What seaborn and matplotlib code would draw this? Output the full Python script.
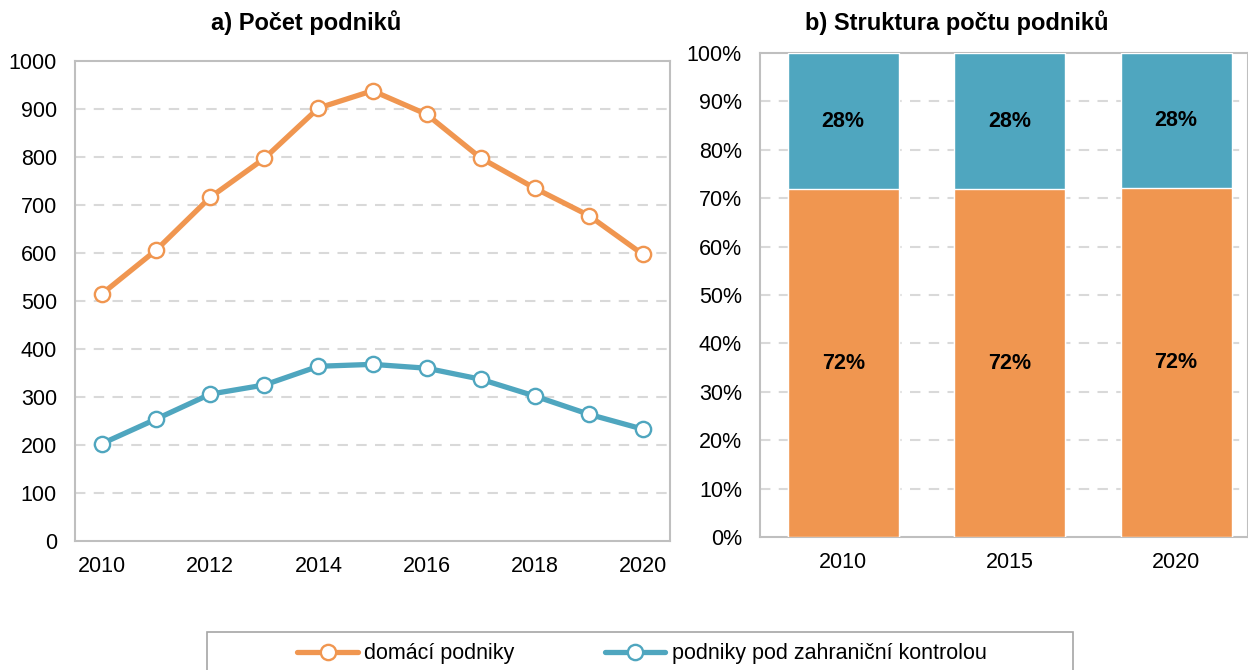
import matplotlib
matplotlib.use("Agg")
import matplotlib.pyplot as plt
from matplotlib.lines import Line2D
from matplotlib.patches import Rectangle
import seaborn as sns
import pandas as pd
import numpy as np

# ---- data ----
years = [2010, 2011, 2012, 2013, 2014, 2015, 2016, 2017, 2018, 2019, 2020]
domestic = [515, 606, 716, 797, 902, 938, 889, 798, 735, 678, 597]
foreign = [203, 254, 306, 325, 364, 368, 360, 337, 302, 264, 233]

share_years = ["2010", "2015", "2020"]
share_domestic = [71.8, 71.8, 72.1]
share_foreign = [28.2, 28.2, 27.9]
share_dom_labels = ["72%", "72%", "72%"]
share_for_labels = ["28%", "28%", "28%"]

series_names = ["domácí podniky", "podniky pod zahraniční kontrolou"]
title_a = "a) Počet podniků"
title_b = "b) Struktura počtu podniků"

# ---- style ----
sns.set_theme(style="white")
plt.rcParams["font.family"] = ["Liberation Sans", "DejaVu Sans"]
plt.rcParams["text.color"] = "black"
ORANGE = "#F09650"
BLUE = "#4FA6BF"
GRID = "#D9D9D9"
FRAME = "#BFBFBF"
FS = 15.5

fig = plt.figure(figsize=(12.48, 6.70), dpi=100)
W, H = 1248, 670
axA = fig.add_axes([75 / W, 1 - 541 / H, (670 - 75) / W, (541 - 61) / H])
axB = fig.add_axes([760 / W, 1 - 537 / H, (1248 - 760) / W, (537 - 53) / H])

# ---- chart a ----
df = pd.DataFrame({"year": years * 2,
                   "value": domestic + foreign,
                   "series": [series_names[0]] * len(years) + [series_names[1]] * len(years)})
sns.lineplot(data=df, x="year", y="value", hue="series", palette=[ORANGE, BLUE],
             ax=axA, linewidth=3.8, marker="o", markersize=11,
             markerfacecolor="white", markeredgewidth=1.7, legend=False, zorder=3)
for line, c in zip(axA.get_lines(), [ORANGE, BLUE]):
    line.set_markeredgecolor(c)
axA.set_xlim(2009.5, 2020.5)
axA.set_ylim(0, 1000)
axA.set_yticks(range(0, 1001, 100))
axA.set_xticks(range(2010, 2021, 2))
axA.set_xlabel("")
axA.set_ylabel("")
for yv in range(100, 1000, 100):
    axA.axhline(yv, color=GRID, lw=1.5, ls=(0, (5, 4)), zorder=1)

# ---- chart b ----
dfb = pd.DataFrame({"year": share_years,
                    "dom": share_domestic,
                    "total": [d + f for d, f in zip(share_domestic, share_foreign)]})
sns.barplot(data=dfb, x="year", y="total", color=BLUE, width=0.667, ax=axB,
            saturation=1, zorder=3)
sns.barplot(data=dfb, x="year", y="dom", color=ORANGE, width=0.667, ax=axB,
            saturation=1, zorder=3)
for i in range(len(share_years)):
    axB.text(i, share_domestic[i] / 2, share_dom_labels[i], ha="center", va="center",
             fontsize=FS, fontweight="bold", color="black", zorder=4)
    axB.text(i, share_domestic[i] + share_foreign[i] / 2, share_for_labels[i],
             ha="center", va="center", fontsize=FS, fontweight="bold", color="black", zorder=4)
axB.set_xlim(-0.5, 2.432)
axB.set_ylim(0, 100)
axB.set_yticks(range(0, 101, 10))
axB.set_yticklabels([f"{v}%" for v in range(0, 101, 10)])
axB.set_xlabel("")
axB.set_ylabel("")
for yv in range(10, 100, 10):
    axB.axhline(yv, color=GRID, lw=1.5, ls=(0, (5, 4)), zorder=1)

for ax in (axA, axB):
    for s in ax.spines.values():
        s.set_color(FRAME)
        s.set_linewidth(1.5)
        s.set_visible(True)
    ax.tick_params(axis="both", labelsize=FS, length=0, colors="black")
    ax.tick_params(axis="y", pad=13)
    ax.tick_params(axis="x", pad=11)
    ax.grid(False)

# ---- titles ----
fig.text(306 / W, 1 - 23 / H, title_a, ha="center", va="center", fontsize=17,
         fontweight="bold", color="black")
fig.text(957 / W, 1 - 23 / H, title_b, ha="center", va="center", fontsize=17,
         fontweight="bold", color="black")

# ---- legend ----
handles = [Line2D([0], [0], color=c, lw=3.8, marker="o", markersize=11,
                  markerfacecolor="white", markeredgecolor=c, markeredgewidth=1.7)
           for c in (ORANGE, BLUE)]
leg = fig.legend(handles, series_names, loc="center", bbox_to_anchor=(642 / W, 1 - 654 / H),
                 ncol=2, frameon=False, fontsize=FS, handlelength=2.8, handletextpad=0.3,
                 columnspacing=4.2)
for t in leg.get_texts():
    t.set_color("black")
fig.patches.append(Rectangle((207 / W, -0.02), 866 / W, (670 - 632) / H + 0.02,
                             transform=fig.transFigure, fill=False,
                             edgecolor="#A6A6A6", lw=1.2))

fig.savefig("out.png", dpi=100)
